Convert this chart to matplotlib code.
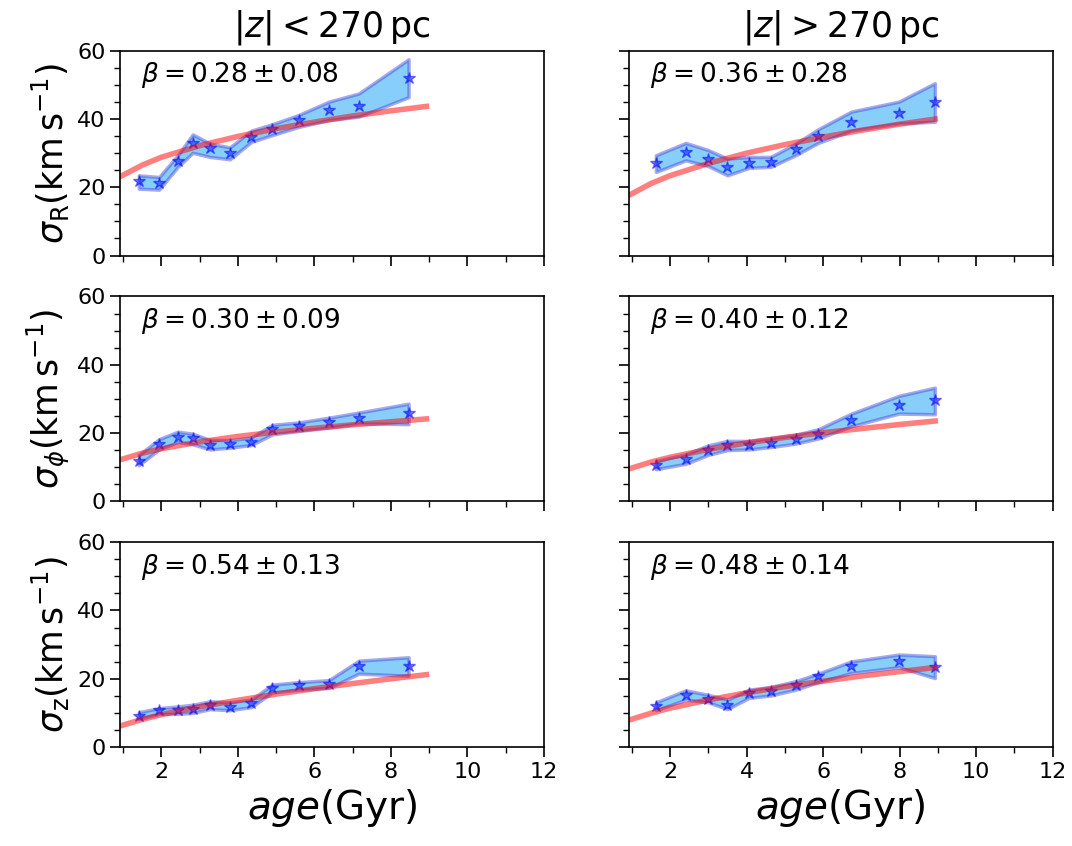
import numpy as np
import matplotlib
matplotlib.use("Agg")
import matplotlib.pyplot as plt
from matplotlib.ticker import MultipleLocator

# ---- data ----
age_in = [1.41, 1.94, 2.43, 2.82, 3.27, 3.79, 4.35, 4.90, 5.59, 6.38, 7.16, 8.46]
age_out = [1.63, 2.41, 3.00, 3.50, 4.06, 4.63, 5.28, 5.87, 6.74, 7.98, 8.92]

sR_in = [21.8, 21.4, 27.7, 33.0, 31.4, 29.9, 34.8, 37.0, 39.7, 42.6, 43.9, 52.0]
sR_in_hi = [23.5, 23.0, 29.4, 35.5, 32.8, 31.7, 36.6, 38.5, 41.2, 45.1, 47.5, 57.5]
sR_in_lo = [19.6, 19.3, 26.0, 30.1, 28.9, 28.2, 33.3, 35.3, 37.7, 39.7, 40.7, 46.4]

sR_out = [27.0, 30.4, 28.4, 26.0, 27.2, 27.5, 31.1, 35.0, 39.1, 41.9, 44.9]
sR_out_hi = [29.4, 33.0, 30.9, 28.4, 28.9, 28.9, 32.8, 37.0, 42.2, 45.1, 50.5]
sR_out_lo = [24.5, 27.9, 26.2, 23.5, 25.7, 26.0, 29.4, 33.0, 36.6, 38.7, 39.2]

sP_in = [11.8, 16.7, 18.9, 18.5, 16.5, 16.7, 17.5, 21.1, 22.0, 23.1, 24.3, 25.8]
sP_in_hi = [13.6, 18.2, 20.4, 19.8, 18.0, 17.9, 18.7, 22.4, 23.1, 24.5, 26.0, 28.6]
sP_in_lo = [10.6, 15.2, 17.4, 16.7, 15.2, 15.7, 16.5, 19.6, 20.6, 21.6, 22.8, 22.6]

sP_out = [10.7, 12.3, 15.0, 16.4, 16.5, 17.2, 18.2, 19.6, 23.8, 28.3, 29.6]
sP_out_hi = [11.8, 13.8, 16.4, 17.7, 17.7, 18.5, 19.5, 21.1, 25.7, 30.9, 33.3]
sP_out_lo = [9.4, 11.0, 13.6, 15.0, 15.2, 15.9, 16.9, 18.4, 22.0, 25.7, 25.5]

sZ_in = [9.2, 10.7, 10.8, 11.2, 12.4, 11.7, 12.9, 17.3, 18.1, 18.6, 23.7, 23.7]
sZ_in_hi = [10.2, 11.4, 11.9, 12.4, 13.4, 13.1, 13.9, 18.3, 19.0, 19.6, 25.3, 26.3]
sZ_in_lo = [8.2, 9.7, 9.7, 10.0, 11.1, 10.8, 11.7, 16.0, 16.8, 17.3, 21.5, 20.9]

sZ_out = [11.9, 15.3, 14.1, 12.4, 15.8, 16.3, 18.1, 20.7, 23.7, 25.1, 23.5]
sZ_out_hi = [13.1, 16.6, 15.3, 13.9, 16.8, 17.6, 19.3, 21.5, 25.1, 27.1, 26.6]
sZ_out_lo = [10.8, 13.9, 13.1, 11.1, 14.4, 15.1, 16.8, 19.0, 21.7, 23.4, 20.2]

# fitted curves (read at these ages)
fit_age = [0.9, 1.5, 2, 3, 4, 5, 6, 7, 8, 9]
fR_in = [23.0, 26.5, 28.8, 32.2, 34.9, 37.2, 39.1, 40.9, 42.4, 43.8]
fR_out = [17.5, 21.1, 23.4, 27.0, 30.0, 32.5, 34.7, 36.7, 38.5, 40.1]
fP_in = [12.1, 14.1, 15.4, 17.4, 19.0, 20.3, 21.4, 22.4, 23.3, 24.2]
fP_out = [9.4, 11.5, 12.9, 15.2, 17.1, 18.7, 20.1, 21.3, 22.5, 23.6]
fZ_in = [6.1, 8.1, 9.5, 11.8, 13.7, 15.5, 17.1, 18.6, 20.0, 21.3]
fZ_out = [7.8, 9.9, 11.4, 13.8, 15.9, 17.7, 19.3, 20.8, 22.1, 23.4]

betas = [["0.28 \\pm 0.08", "0.36 \\pm 0.28"],
         ["0.30 \\pm 0.09", "0.40 \\pm 0.12"],
         ["0.54 \\pm 0.13", "0.48 \\pm 0.14"]]
titles = [r"$|z|<270\,\mathrm{pc}$", r"$|z|>270\,\mathrm{pc}$"]
ylabels = [r"$\sigma_{\rm R}(\rm km\,s^{-1})$",
           r"$\sigma_{\phi}(\rm km\,s^{-1})$",
           r"$\sigma_{\rm z}(\rm km\,s^{-1})$"]

panels = [
    [(age_in, sR_in, sR_in_lo, sR_in_hi, fR_in), (age_out, sR_out, sR_out_lo, sR_out_hi, fR_out)],
    [(age_in, sP_in, sP_in_lo, sP_in_hi, fP_in), (age_out, sP_out, sP_out_lo, sP_out_hi, fP_out)],
    [(age_in, sZ_in, sZ_in_lo, sZ_in_hi, fZ_in), (age_out, sZ_out, sZ_out_lo, sZ_out_hi, fZ_out)],
]

fig, axes = plt.subplots(3, 2, figsize=(10.72, 8.46), dpi=100)
fig.subplots_adjust(left=0.112, right=0.982, top=0.940, bottom=0.117,
                    wspace=0.2, hspace=0.2)

for i in range(3):
    for j in range(2):
        ax = axes[i, j]
        a, s, lo, hi, f = panels[i][j]
        ax.fill_between(a, lo, hi, facecolor='#87CEFA',
                        edgecolor=(0.25, 0.25, 0.85, 0.45), linewidth=2.5)
        ax.plot(a, s, '*', color='blue', alpha=0.5, markersize=9,
                markeredgewidth=1.0)
        ax.plot(fit_age, f, color='red', alpha=0.5, linewidth=4,
                solid_capstyle='butt')
        ax.set_xlim(0.92, 12)
        ax.set_ylim(0, 60)
        ax.xaxis.set_major_locator(MultipleLocator(2))
        ax.xaxis.set_minor_locator(MultipleLocator(1))
        ax.yaxis.set_major_locator(MultipleLocator(20))
        ax.yaxis.set_minor_locator(MultipleLocator(5))
        ax.tick_params(which='major', length=7, width=1.2, labelsize=16)
        ax.tick_params(which='minor', length=4, width=1.0)
        for sp in ax.spines.values():
            sp.set_linewidth(1.2)
        ax.text(0.05, 0.88, r"$\beta = " + betas[i][j] + "$",
                transform=ax.transAxes, fontsize=19, va='center', ha='left')
        if j == 0:
            ax.set_ylabel(ylabels[i], fontsize=25, labelpad=4)
        else:
            ax.tick_params(labelleft=False)
        if i < 2:
            ax.tick_params(labelbottom=False)
        else:
            ax.set_xlabel(r"$age$(Gyr)", fontsize=28)
        if i == 0:
            ax.set_title(titles[j], fontsize=25, pad=10)

fig.savefig("out.png", dpi=100)
